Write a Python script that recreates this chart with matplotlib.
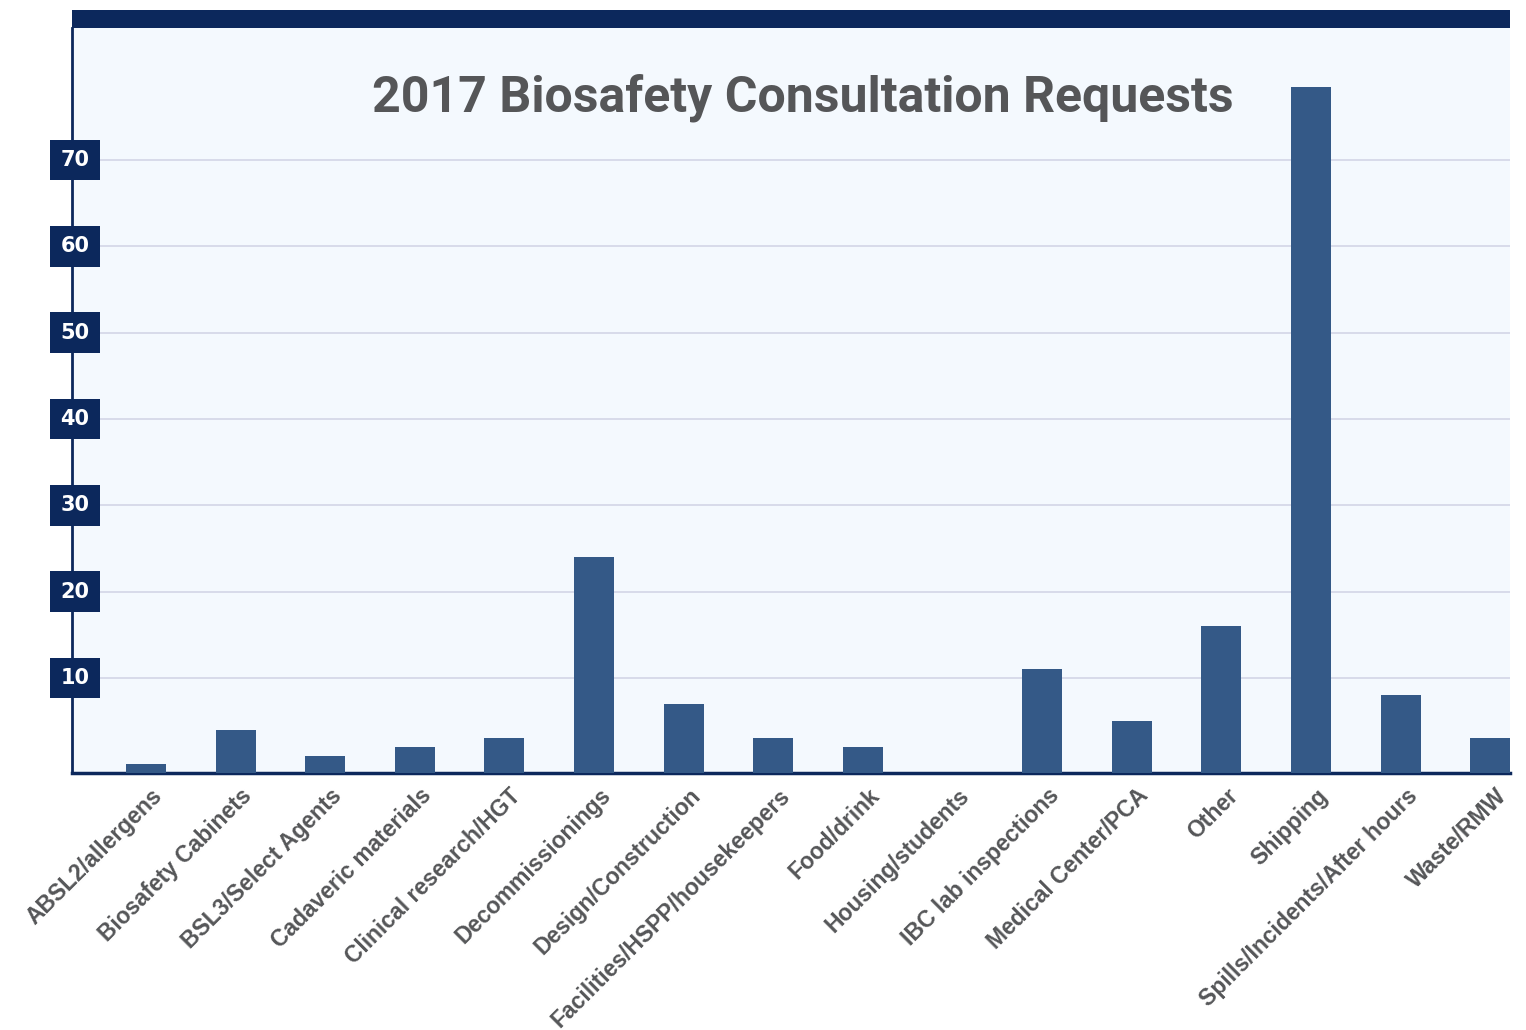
import matplotlib
matplotlib.use("Agg")
import matplotlib.pyplot as plt
import matplotlib.transforms as mtransforms
from matplotlib.patches import Rectangle

# Data
categories = [
    "ABSL2/allergens", "Biosafety Cabinets", "BSL3/Select Agents",
    "Cadaveric materials", "Clinical research/HGT", "Decommissionings",
    "Design/Construction", "Facilities/HSPP/housekeepers", "Food/drink",
    "Housing/students", "IBC lab inspections", "Medical Center/PCA",
    "Other", "Shipping", "Spills/Incidents/After hours", "Waste/RMW",
]
requests = [1, 5, 2, 3, 4, 25, 8, 4, 3, 0, 12, 6, 17, 79.5, 9, 4]
tick_labels = ["10", "20", "30", "40", "50", "60", "70"]
tick_values = [10, 20, 30, 40, 50, 60, 70]
grid_offset = 1  # gridlines in the reference sit one unit above the labelled value

navy = "#0C285C"
bar_color = "#345987"
bg = "#F4F9FE"
grid_color = "#D3D6E6"
text_gray = "#555658"

fig = plt.figure(figsize=(15.26, 10.30), dpi=100)
ax = fig.add_axes([72 / 1526, 1 - 773 / 1030, (1510 - 72) / 1526, (773 - 28) / 1030])
ax.set_facecolor(bg)

# navy band across the top
fig.patches.append(Rectangle((72 / 1526, 1 - 28 / 1030), (1510 - 72) / 1526, 18 / 1030,
                             transform=fig.transFigure, facecolor=navy, edgecolor="none"))

x = list(range(len(categories)))
ax.bar(x, requests, width=0.445, color=bar_color, zorder=3)

ax.set_xlim(-0.825, len(categories) - 0.78)
ax.set_ylim(0, 86.3)

# gridlines
for v in tick_values:
    ax.axhline(v + grid_offset, color=grid_color, lw=1.2, zorder=1)

# y labels in navy boxes
trans = mtransforms.blended_transform_factory(ax.transAxes, ax.transData)
for v, lab in zip(tick_values, tick_labels):
    ax.text(0.002, v + grid_offset, lab, transform=trans, ha="center", va="center",
            color="white", fontsize=15, fontweight="bold", family="DejaVu Sans",
            bbox=dict(boxstyle="square,pad=0.5", facecolor=navy, edgecolor="none"),
            zorder=5, clip_on=False)
ax.set_yticks([])

ax.set_xticks(x)
ax.set_xticklabels(categories, rotation=45, ha="right", rotation_mode="anchor",
                   fontsize=16.5, fontweight="bold", color=text_gray, family="Liberation Sans")
ax.tick_params(axis="x", length=0, pad=8)
offset = mtransforms.ScaledTranslation(5 / 100, 0, fig.dpi_scale_trans)
for lbl in ax.get_xticklabels():
    lbl.set_transform(lbl.get_transform() + offset)

for side in ["top", "right"]:
    ax.spines[side].set_visible(False)
ax.spines["left"].set_color(navy)
ax.spines["left"].set_linewidth(2)
ax.spines["bottom"].set_color(navy)
ax.spines["bottom"].set_linewidth(2.5)

ax.text(0.508, 0.906, "2017 Biosafety Consultation Requests", transform=ax.transAxes,
        ha="center", va="center", fontsize=36, fontweight="bold", color=text_gray,
        family="Roboto", zorder=4)

fig.savefig("out.png", dpi=100, facecolor="white")
